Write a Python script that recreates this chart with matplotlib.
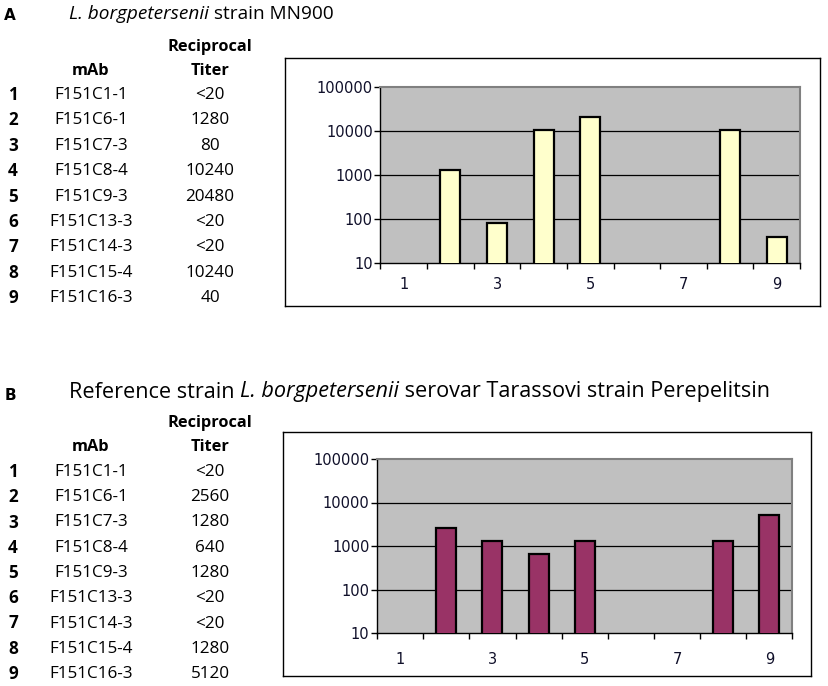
import numpy as np
import matplotlib
matplotlib.use("Agg")
import matplotlib.pyplot as plt
from matplotlib.ticker import FixedLocator, FixedFormatter, NullLocator

#  Data
ROW_IDS = ["1", "2", "3", "4", "5", "6", "7", "8", "9"]
MABS = ["F151C1-1", "F151C6-1", "F151C7-3", "F151C8-4", "F151C9-3",
        "F151C13-3", "F151C14-3", "F151C15-4", "F151C16-3"]
TITERS_A = ["<20", "1280", "80", "10240", "20480", "<20", "<20", "10240", "40"]
TITERS_B = ["<20", "2560", "1280", "640", "1280", "<20", "<20", "1280", "5120"]
Y_TICKS = [10, 100, 1000, 10000, 100000]
Y_LABELS = ["10", "100", "1000", "10000", "100000"]
X_LABELS = ["1", "3", "5", "7", "9"]

W, H = 829, 686
TXT = ["Open Sans", "DejaVu Sans"]
TABLE_FS = 12.3


def fx(x):
    return x / W


def fy(y):
    return 1 - y / H


def to_values(titers):
    # "<20" means below detection -> no bar
    return np.array([np.nan if t.startswith("<") else float(t) for t in titers])


def draw_title(fig, x, y, parts, size):
    # text pieces with mixed styles, placed one after another
    xpos = fx(x)
    for txt, st in parts:
        t = fig.text(xpos, fy(y), txt, family=TXT, style=st, fontsize=size,
                     ha="left", va="center")
        fig.canvas.draw()
        xpos = t.get_window_extent().x1 / W


def draw_table(fig, y_head, y_row0, titers, step=25.4):
    fig.text(fx(210), fy(y_head), "Reciprocal", family=TXT, weight="bold",
             fontsize=TABLE_FS - 0.5, ha="center", va="center")
    fig.text(fx(91), fy(y_head + 24), "mAb", family=TXT, weight="bold",
             fontsize=TABLE_FS - 0.5, ha="center", va="center")
    fig.text(fx(210), fy(y_head + 24), "Titer", family=TXT, weight="bold",
             fontsize=TABLE_FS - 0.5, ha="center", va="center")
    for i, (rid, mab, tit) in enumerate(zip(ROW_IDS, MABS, titers)):
        y = fy(y_row0 + i * step)
        fig.text(fx(13), y, rid, family=TXT, weight="bold", fontsize=TABLE_FS,
                 ha="center", va="center")
        fig.text(fx(91), y, mab, family=TXT, fontsize=TABLE_FS, ha="center", va="center")
        fig.text(fx(210), y, tit, family=TXT, fontsize=TABLE_FS, ha="center", va="center")


def draw_chart(fig, box, area, values, color, label_pad):
    # outer frame
    bx = fig.add_axes([fx(box[0]), fy(box[3]), fx(box[2] - box[0]), (box[3] - box[1]) / H])
    bx.set_xticks([])
    bx.set_yticks([])
    for s in bx.spines.values():
        s.set_color("black")
        s.set_linewidth(1.0)

    ax = fig.add_axes([fx(area[0]), fy(area[3]), fx(area[2] - area[0]), (area[3] - area[1]) / H])
    ax.set_facecolor("#c0c0c0")
    x = np.arange(1, len(values) + 1)
    keep = ~np.isnan(values)
    ax.bar(x[keep], values[keep], width=0.43,
           color=color, edgecolor="black", linewidth=1.6, zorder=3)
    ax.set_yscale("log")
    ax.set_ylim(10, 100000)
    ax.set_xlim(0.5, len(values) + 0.5)

    for g in [100, 1000, 10000]:
        ax.axhline(g, color="black", linewidth=0.9, zorder=1)

    ax.yaxis.set_major_locator(FixedLocator(Y_TICKS))
    ax.yaxis.set_major_formatter(FixedFormatter(Y_LABELS))
    ax.yaxis.set_minor_locator(NullLocator())
    ax.tick_params(axis="y", which="major", length=4, width=1, pad=1.5,
                   labelsize=10.5, direction="out", labelcolor="#10102a")

    ax.xaxis.set_major_locator(FixedLocator([1, 3, 5, 7, 9]))
    ax.xaxis.set_major_formatter(FixedFormatter(X_LABELS))
    ax.xaxis.set_minor_locator(FixedLocator(np.arange(0.5, len(values) + 1, 1.0)))
    ax.tick_params(axis="x", which="major", length=0, pad=label_pad, labelsize=10.5,
                   labelcolor="#10102a")
    ax.tick_params(axis="x", which="minor", length=4, width=1, direction="out")

    ax.spines["left"].set_color("black")
    ax.spines["bottom"].set_color("black")
    ax.spines["left"].set_linewidth(1.0)
    ax.spines["bottom"].set_linewidth(1.0)
    ax.spines["top"].set_color("#808080")
    ax.spines["right"].set_color("#808080")
    ax.spines["top"].set_linewidth(1.5)
    ax.spines["right"].set_linewidth(1.5)
    return ax


fig = plt.figure(figsize=(W / 100, H / 100), dpi=100)

#  Panel A
fig.text(fx(10), fy(15), "A", family=["DejaVu Sans"], weight="bold", fontsize=11,
         ha="center", va="center")
draw_title(fig, 69, 14, [("L. borgpetersenii", "italic"), (" strain MN900", "normal")], 13.7)
draw_table(fig, 47, 95, TITERS_A)
draw_chart(fig, (285, 58, 820, 306), (380.5, 86.7, 800, 263.3),
           to_values(TITERS_A), "#ffffcc", 10)

#  Panel B
fig.text(fx(10), fy(395), "B", family=["DejaVu Sans"], weight="bold", fontsize=11,
         ha="center", va="center")
draw_title(fig, 69, 392, [("Reference strain ", "normal"), ("L. borgpetersenii", "italic"),
                          (" serovar Tarassovi strain Perepelitsin", "normal")], 15.6)
draw_table(fig, 423, 472, TITERS_B, step=25.25)
draw_chart(fig, (283, 432, 811, 676), (377, 459, 792.5, 633),
           to_values(TITERS_B), "#993366", 14)

plt.savefig("out.png", dpi=100)
